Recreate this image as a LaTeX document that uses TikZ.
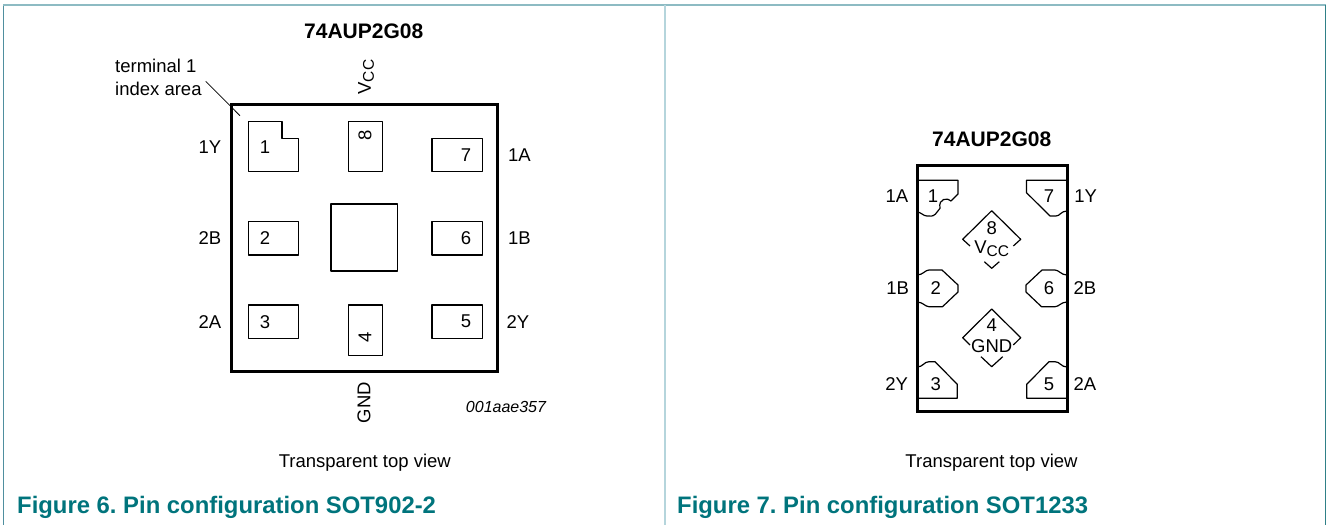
\documentclass[tikz,border=0pt]{standalone}
\usepackage{fontspec}
\setmainfont{Liberation Sans}
\definecolor{capteal}{HTML}{00747C}
\definecolor{frameA}{HTML}{8DBBC3}
\definecolor{frameB}{HTML}{2F8087}
\definecolor{frameC}{HTML}{B5D5DC}
\definecolor{frameD}{HTML}{4F8F9F}
\newcommand{\fs}[1]{\fontsize{#1}{#1}\selectfont}
\newcommand{\vccsub}{V\raisebox{-3pt}{\fs{15.5}CC}}
\frenchspacing
\tikzset{
  lbl/.style={inner sep=0pt,font=\fs{18.5}},
  ttl/.style={inner sep=0pt,font=\fs{21}\bfseries},
  figcap/.style={inner sep=0pt,anchor=base west,font=\fs{23.85}\bfseries,text=capteal},
  body/.style={draw=black,line width=3pt,line join=miter},
  pad/.style={draw=black,line width=1.2pt,line join=round},
  lead/.style={draw=black,line width=0.8pt},
}
\begin{document}
\begin{tikzpicture}[x=1pt,y=-1pt]
\useasboundingbox (0,0) rectangle (1327,525);
% frame
\draw[frameD,line width=1.3pt] (3.5,5) -- (3.5,525);
\draw[frameA,line width=1.3pt] (3,5) -- (1326,5);
\draw[frameB,line width=1.3pt] (1325.5,5) -- (1325.5,525);
\draw[frameC,line width=1.3pt] (665,5) -- (665,525);
% ---- left device
\node[ttl,anchor=base] (t1) at (363.7,38.3) {74AUP2G08};
\draw[body] (231,104) rectangle (497,371);
\draw[pad] (248.3,121.7) -- (282,121.7) -- (282,138.3) -- (298.7,138.3) -- (298.7,171.7) -- (248.3,171.7) -- cycle;
\draw[pad] (348.7,121.7) rectangle (382.3,171.7);
\draw[pad] (432,138.3) rectangle (482.3,171.7);
\draw[pad] (331,204) rectangle (397.7,271);
\draw[pad] (248.3,221.7) rectangle (298.7,255);
\draw[pad] (432,221.7) rectangle (482.3,255);
\draw[pad] (248.3,305) rectangle (298.7,338.7);
\draw[pad] (432,305) rectangle (482.3,338.7);
\draw[pad] (348.7,305) rectangle (382.3,355.3);
\node[lbl,anchor=base west] (ti) at (115,72.3) {terminal 1};
\node[lbl,anchor=base west] (ia) at (115,95) {index area};
\coordinate (la) at (205.7,81.3);
\coordinate (lb) at (240,115.7);
\draw[lead] (la) -- (lb);
\node[lbl,rotate=90] (vl) at (366,77) {\vccsub};
\node[lbl,rotate=90] (gl) at (364,402.5) {GND};
\node[lbl] (p1) at (265,146.7) {1};
\node[lbl,rotate=90] (p8) at (365,135.7) {8};
\node[lbl] (p7) at (466,155) {7};
\node[lbl] (p2) at (265,238) {2};
\node[lbl] (p6) at (466,238) {6};
\node[lbl] (p3) at (265,321.7) {3};
\node[lbl] (p5) at (466,321.7) {5};
\node[lbl,rotate=90] (p4) at (365,337.7) {4};
\node[lbl] (n1y) at (210,146.7) {1Y};
\node[lbl] (n2b) at (210,238) {2B};
\node[lbl] (n2a) at (210,321.7) {2A};
\node[lbl] (n1a) at (519.5,155) {1A};
\node[lbl] (n1b) at (519.5,238) {1B};
\node[lbl] (n2y) at (518,321.7) {2Y};
\node[inner sep=0pt,font=\fs{16}\itshape] (code) at (506,407) {001aae357};
\node[lbl,anchor=base] (tv1) at (364.8,467.3) {Transparent top view};
\node[figcap] (c6) at (17,513) {Figure 6. Pin configuration SOT902-2};
% ---- right device
\node[ttl,anchor=base] (t2) at (991.7,146) {74AUP2G08};
\draw[body] (917,165) rectangle (1067,411.5);
% pad 1
\draw[pad] (917,180.3) -- (958,180.3) -- (958,194) -- (951,201)
  .. controls (948,197.5) and (938,198) .. (940,208.3)
  -- (935.5,214) .. controls (933,216.5) and (930,216.5) .. (927,216)
  .. controls (923,216) and (921,212) .. (917,212);
% pad 7
\draw[pad] (1067,180.3) -- (1026.5,180.3) -- (1026.5,192.7) -- (1050,216) -- (1056,216)
  .. controls (1060,216) and (1061,211) .. (1067,211);
% pad 2
\draw[pad] (917,275) .. controls (923,275) and (925,270) .. (929,270) -- (942,270)
  -- (958,285) -- (958,292) -- (942.5,306.7) -- (929,306.7)
  .. controls (925,306.7) and (923,302) .. (917,302);
% pad 6
\draw[pad] (1067,275) .. controls (1061,275) and (1059,270) .. (1055,270) -- (1042,270)
  -- (1026,285) -- (1026,292) -- (1041.5,306.7) -- (1055,306.7)
  .. controls (1059,306.7) and (1061,302) .. (1067,302);
% pad 3
\draw[pad] (917,367) .. controls (923,367) and (924,361.7) .. (929,361.7) -- (935,361.7)
  -- (957.3,384.3) -- (957.3,398.3) -- (917,398.3);
% pad 5
\draw[pad] (1067,367) .. controls (1061,367) and (1060,361.7) .. (1055,361.7) -- (1049,361.7)
  -- (1026.7,384.3) -- (1026.7,398.3) -- (1067,398.3);
% diamonds
\draw[pad] (970,246) -- (962.7,239.3) -- (991.7,210.7) -- (1020.7,239.3) -- (1013.3,246);
\draw[pad] (984.3,261.7) -- (991.7,268.3) -- (999.3,261.7);
\draw[pad] (970,345) -- (962.7,337.7) -- (991.7,309) -- (1020.7,337.7) -- (1013.3,345);
\draw[pad] (981,356.7) -- (991.7,366.7) -- (1002.7,356.7);
\node[lbl] (q1) at (933,196) {1};
\node[lbl] (q7) at (1049,196) {7};
\node[lbl] (q8) at (991.7,228) {8};
\node[lbl] (qv) at (991.7,249) {\vccsub};
\node[lbl] (q2) at (935.7,288) {2};
\node[lbl] (q6) at (1049,288) {6};
\node[lbl] (q4) at (991.7,325) {4};
\node[lbl] (qg) at (991.7,346) {GND};
\node[lbl] (q3) at (935.7,384) {3};
\node[lbl] (q5) at (1049,384) {5};
\node[lbl] (m1a) at (897,196) {1A};
\node[lbl] (m1y) at (1085.7,196) {1Y};
\node[lbl] (m1b) at (897.7,288) {1B};
\node[lbl] (m2b) at (1085,288) {2B};
\node[lbl] (m2y) at (896.7,384) {2Y};
\node[lbl] (m2a) at (1085,384) {2A};
\node[lbl,anchor=base] (tv2) at (991.5,467.3) {Transparent top view};
\node[figcap] (c7) at (677,513) {Figure 7. Pin configuration SOT1233};
\end{tikzpicture}
\end{document}
